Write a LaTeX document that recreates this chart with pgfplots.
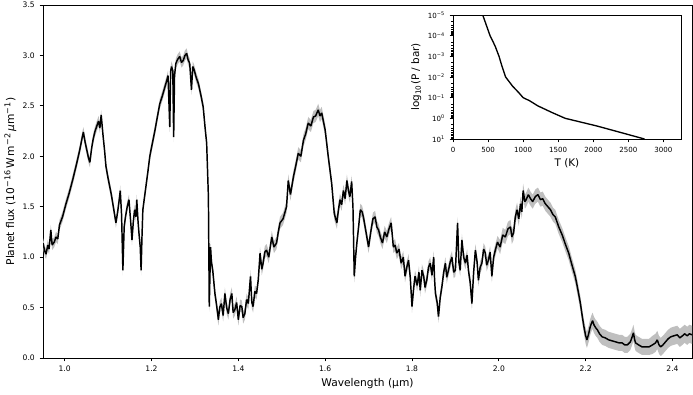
\documentclass[border=0pt]{standalone}
\usepackage{fontspec}
\setmainfont{DejaVu Sans}
\usepackage{pgfplots}
\usepgfplotslibrary{fillbetween}
\pgfplotsset{compat=1.18}
\usepackage{pgfplotstable}

% emission spectrum: wavelength (um), flux (1e-16 W m^-2 um^-1), 1-sigma error
\pgfplotstableread{
x f e
0.950 1.14 0.05
0.954 1.06 0.05
0.957 1.03 0.05
0.961 1.12 0.05
0.964 1.08 0.05
0.968 1.27 0.05
0.971 1.12 0.05
0.976 1.15 0.05
0.980 1.20 0.05
0.984 1.18 0.05
0.988 1.32 0.05
0.995 1.40 0.05
1.003 1.53 0.05
1.010 1.63 0.05
1.018 1.76 0.05
1.026 1.90 0.05
1.034 2.05 0.05
1.040 2.18 0.05
1.043 2.24 0.05
1.047 2.14 0.05
1.051 2.06 0.05
1.055 1.98 0.05
1.058 1.94 0.05
1.062 2.08 0.05
1.066 2.18 0.05
1.070 2.25 0.05
1.074 2.30 0.05
1.078 2.35 0.05
1.081 2.28 0.05
1.084 2.41 0.05
1.088 2.22 0.05
1.092 2.05 0.05
1.095 1.90 0.05
1.100 1.78 0.05
1.107 1.63 0.05
1.112 1.50 0.05
1.118 1.34 0.05
1.122 1.45 0.05
1.125 1.55 0.05
1.128 1.66 0.05
1.131 1.42 0.05
1.134 0.87 0.05
1.137 1.30 0.05
1.140 1.40 0.05
1.144 1.50 0.05
1.148 1.57 0.05
1.152 1.35 0.05
1.155 1.17 0.05
1.158 1.35 0.05
1.161 1.47 0.05
1.164 1.40 0.05
1.166 1.57 0.05
1.169 1.35 0.05
1.171 1.24 0.05
1.174 1.10 0.05
1.176 0.87 0.05
1.178 1.20 0.05
1.180 1.47 0.05
1.184 1.60 0.05
1.188 1.73 0.05
1.192 1.86 0.05
1.196 2.00 0.05
1.202 2.13 0.05
1.208 2.26 0.05
1.213 2.38 0.05
1.219 2.52 0.05
1.225 2.60 0.05
1.231 2.69 0.05
1.235 2.75 0.05
1.238 2.80 0.05
1.242 2.29 0.05
1.244 2.84 0.05
1.246 2.89 0.05
1.249 2.85 0.05
1.251 2.19 0.05
1.253 2.80 0.05
1.256 2.92 0.05
1.260 2.96 0.05
1.265 2.99 0.05
1.269 2.93 0.05
1.273 2.95 0.05
1.277 3.00 0.05
1.281 3.02 0.05
1.284 2.96 0.05
1.288 2.92 0.05
1.292 2.66 0.05
1.295 2.89 0.05
1.298 2.86 0.05
1.303 2.78 0.05
1.308 2.72 0.05
1.314 2.60 0.05
1.319 2.49 0.05
1.323 2.30 0.05
1.327 2.13 0.05
1.331 1.60 0.05
1.333 0.51 0.05
1.336 1.10 0.06
1.338 0.95 0.06
1.341 0.87 0.06
1.346 0.64 0.06
1.350 0.52 0.06
1.354 0.38 0.06
1.357 0.50 0.06
1.361 0.54 0.06
1.365 0.42 0.06
1.369 0.64 0.06
1.373 0.50 0.06
1.377 0.44 0.06
1.381 0.58 0.06
1.385 0.64 0.06
1.388 0.45 0.06
1.392 0.48 0.06
1.396 0.55 0.06
1.400 0.38 0.06
1.404 0.52 0.06
1.408 0.51 0.06
1.411 0.40 0.06
1.415 0.44 0.06
1.419 0.58 0.06
1.423 0.54 0.06
1.428 0.81 0.06
1.431 0.55 0.06
1.434 0.51 0.06
1.438 0.66 0.06
1.442 0.64 0.06
1.446 0.78 0.06
1.450 1.04 0.06
1.454 0.88 0.06
1.457 0.94 0.06
1.461 1.05 0.06
1.465 1.07 0.06
1.470 1.00 0.06
1.477 1.20 0.06
1.482 1.10 0.06
1.488 1.14 0.06
1.492 1.25 0.06
1.496 1.34 0.06
1.503 1.38 0.06
1.511 1.50 0.06
1.515 1.76 0.06
1.520 1.62 0.06
1.527 1.80 0.06
1.532 1.90 0.06
1.538 2.03 0.06
1.544 2.00 0.06
1.550 2.16 0.06
1.555 2.22 0.06
1.561 2.33 0.06
1.567 2.30 0.06
1.573 2.39 0.06
1.578 2.40 0.06
1.584 2.46 0.06
1.588 2.40 0.06
1.592 2.43 0.06
1.600 2.26 0.06
1.607 2.00 0.06
1.615 1.73 0.06
1.621 1.43 0.06
1.627 1.34 0.06
1.630 1.45 0.06
1.634 1.57 0.06
1.638 1.52 0.06
1.642 1.66 0.06
1.646 1.58 0.06
1.650 1.76 0.06
1.654 1.65 0.06
1.657 1.60 0.06
1.661 1.75 0.06
1.664 1.50 0.06
1.667 0.81 0.06
1.670 1.00 0.06
1.673 1.14 0.06
1.677 1.30 0.06
1.681 1.47 0.06
1.685 1.45 0.06
1.688 1.40 0.06
1.694 1.25 0.06
1.700 1.10 0.06
1.705 1.25 0.06
1.710 1.38 0.06
1.715 1.40 0.06
1.719 1.30 0.06
1.723 1.27 0.06
1.727 1.20 0.06
1.732 1.14 0.06
1.737 1.25 0.06
1.742 1.20 0.06
1.747 1.28 0.06
1.752 1.34 0.06
1.755 1.20 0.06
1.757 1.10 0.06
1.761 1.12 0.06
1.765 1.04 0.06
1.770 1.08 0.06
1.775 0.94 0.06
1.780 1.00 0.06
1.784 0.81 0.06
1.788 0.90 0.06
1.792 0.97 0.06
1.796 0.80 0.06
1.800 0.51 0.06
1.804 0.70 0.06
1.807 0.81 0.06
1.812 0.72 0.06
1.816 0.85 0.06
1.819 0.67 0.06
1.823 0.87 0.06
1.827 0.81 0.06
1.830 0.70 0.06
1.834 0.77 0.06
1.838 0.90 0.06
1.842 0.94 0.06
1.846 0.82 0.06
1.850 1.00 0.06
1.852 0.78 0.06
1.854 0.64 0.06
1.858 0.55 0.06
1.861 0.41 0.06
1.865 0.60 0.06
1.869 0.71 0.06
1.873 0.85 0.06
1.877 0.94 0.06
1.880 0.80 0.06
1.884 0.87 0.06
1.888 0.95 0.06
1.892 1.00 0.06
1.896 0.85 0.06
1.900 0.87 0.06
1.905 1.34 0.06
1.908 0.95 0.06
1.911 0.87 0.06
1.915 1.17 0.06
1.919 1.00 0.06
1.923 0.94 0.06
1.927 1.02 0.06
1.930 0.87 0.06
1.934 0.75 0.06
1.938 0.54 0.06
1.942 0.85 0.06
1.946 1.07 0.06
1.950 0.95 0.06
1.953 0.77 0.06
1.957 0.90 0.06
1.961 0.94 0.06
1.965 1.08 0.06
1.969 1.04 0.06
1.972 0.92 0.06
1.976 0.97 0.06
1.980 1.05 0.06
1.984 0.81 0.06
1.988 1.00 0.06
1.992 1.07 0.06
1.997 1.15 0.06
2.003 1.10 0.07
2.009 1.22 0.07
2.015 1.20 0.07
2.021 1.28 0.07
2.027 1.30 0.07
2.030 1.20 0.07
2.034 1.24 0.07
2.038 1.40 0.07
2.042 1.47 0.07
2.046 1.38 0.07
2.050 1.53 0.07
2.053 1.45 0.07
2.056 1.66 0.07
2.060 1.55 0.07
2.063 1.57 0.07
2.068 1.62 0.07
2.073 1.58 0.07
2.078 1.55 0.07
2.084 1.60 0.07
2.090 1.62 0.07
2.096 1.57 0.07
2.101 1.58 0.07
2.107 1.53 0.07
2.113 1.50 0.07
2.119 1.47 0.07
2.125 1.42 0.07
2.130 1.40 0.07
2.138 1.30 0.07
2.146 1.22 0.07
2.154 1.12 0.07
2.161 1.04 0.07
2.168 0.93 0.07
2.176 0.81 0.07
2.182 0.68 0.07
2.188 0.54 0.07
2.192 0.42 0.07
2.196 0.31 0.07
2.200 0.22 0.08
2.203 0.18 0.08
2.207 0.24 0.08
2.210 0.30 0.08
2.213 0.34 0.08
2.216 0.37 0.08
2.219 0.33 0.08
2.223 0.30 0.08
2.227 0.28 0.08
2.232 0.24 0.08
2.238 0.21 0.08
2.245 0.20 0.08
2.253 0.18 0.08
2.261 0.17 0.08
2.269 0.16 0.08
2.277 0.15 0.08
2.284 0.15 0.08
2.290 0.13 0.08
2.296 0.13 0.08
2.303 0.16 0.08
2.308 0.22 0.08
2.310 0.25 0.08
2.313 0.18 0.08
2.315 0.15 0.08
2.322 0.13 0.08
2.330 0.11 0.08
2.338 0.11 0.08
2.346 0.11 0.08
2.354 0.13 0.09
2.361 0.15 0.09
2.365 0.18 0.09
2.369 0.13 0.09
2.373 0.11 0.09
2.378 0.13 0.09
2.384 0.16 0.09
2.390 0.19 0.09
2.396 0.21 0.09
2.403 0.22 0.09
2.411 0.23 0.09
2.417 0.20 0.09
2.423 0.22 0.09
2.428 0.24 0.09
2.434 0.22 0.09
2.439 0.24 0.09
2.445 0.23 0.09
}\spec

% temperature-pressure profile
\pgfplotstableread{
T P
424 1e-5
528 1e-4
600 3.16e-4
656 1e-3
700 3.16e-3
750 1e-2
850 2.8e-2
935 5.6e-2
1000 1e-1
1090 1.4e-1
1210 2.5e-1
1420 5.4e-1
1600 1
2050 2.34
2730 10
}\tp

\begin{document}
\begin{tikzpicture}
  \begin{axis}[
      width=486.75pt, height=264.75pt, scale only axis,
      xmin=0.95, xmax=2.445, ymin=0, ymax=3.5,
      xtick={1,1.2,1.4,1.6,1.8,2,2.2,2.4},
      xticklabels={1.0,1.2,1.4,1.6,1.8,2.0,2.2,2.4},
      ytick={0,0.5,1,1.5,2,2.5,3,3.5},
      yticklabels={0.0,0.5,1.0,1.5,2.0,2.5,3.0,3.5},
      xtick pos=left, ytick pos=left,
      tick align=outside, major tick length=2.6pt,
      tick style={line width=0.6pt, black},
      axis line style={line width=0.6pt},
      tick label style={font=\fontsize{5.7}{6}\selectfont},
      label style={font=\fontsize{8}{9}\selectfont},
      xlabel={Wavelength (µm)},
      ylabel={Planet flux (10\textsuperscript{−16}\,W\,m\textsuperscript{−2}\,\textit{µ}m\textsuperscript{−1})},
      xlabel style={yshift=2pt},
      ylabel style={yshift=-2pt},
    ]
    \addplot[draw=none, name path=up, forget plot] table[x=x, y expr=\thisrow{f}+\thisrow{e}] {\spec};
    \addplot[draw=none, name path=lo, forget plot] table[x=x, y expr=\thisrow{f}-\thisrow{e}] {\spec};
    \addplot[fill=black!25, draw=none] fill between[of=up and lo];
    \addplot[black, line width=1.1pt, line join=bevel] table[x=x, y=f] {\spec};
  \end{axis}
  \begin{axis}[
      at={(307.5pt,164.25pt)}, anchor=south west,
      width=171pt, height=93pt, scale only axis,
      axis background/.style={fill=white},
      xmin=0, xmax=3250, ymode=log, ymin=1e-5, ymax=10, y dir=reverse,
      xtick={0,500,1000,1500,2000,2500,3000},
      xticklabels={0,500,1000,1500,2000,2500,3000},
      ytick={1e-5,1e-4,1e-3,1e-2,1e-1,1,10},
      yticklabels={10\textsuperscript{−5},10\textsuperscript{−4},10\textsuperscript{−3},10\textsuperscript{−2},10\textsuperscript{−1},10\textsuperscript{0},10\textsuperscript{1}},
      xtick pos=left, ytick pos=left,
      tick align=outside, major tick length=2.6pt, minor tick length=1.5pt,
      tick style={line width=0.5pt, black},
      axis line style={line width=0.6pt},
      tick label style={font=\fontsize{5.3}{6}\selectfont},
      label style={font=\fontsize{7.8}{8}\selectfont},
      xlabel={T (K)},
      ylabel={log\textsubscript{10}(P / bar)},
      xlabel style={yshift=2pt},
      ylabel style={yshift=-2pt},
    ]
    \addplot[black, line width=1pt] table[x=T, y=P] {\tp};
  \end{axis}
  \pgfresetboundingbox
  \useasboundingbox (-32.25pt,-27pt) rectangle (487.5pt,268.5pt);
\end{tikzpicture}
\end{document}
